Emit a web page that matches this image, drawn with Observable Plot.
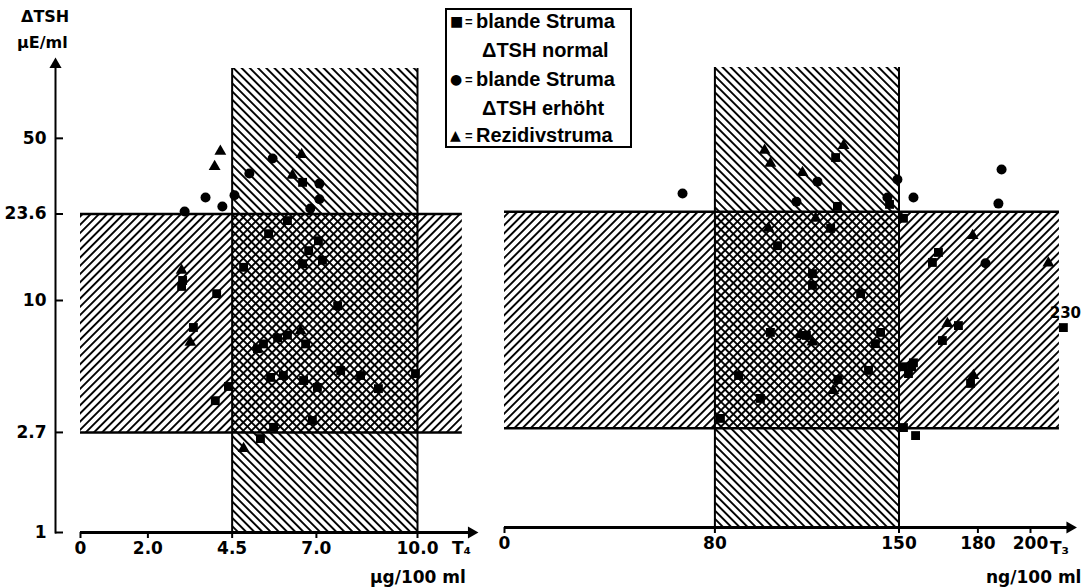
<!DOCTYPE html>
<html>
<head>
<meta charset="utf-8">
<script src="https://cdn.jsdelivr.net/npm/d3@7"></script>
<script src="https://cdn.jsdelivr.net/npm/@observablehq/plot@0.6"></script>
<style>
  body { margin: 0; background: #fff; }
  #wrap { position: relative; width: 1085px; height: 588px; overflow: hidden; background: #fff;
    font-family: "DejaVu Sans", sans-serif; font-weight: bold; color: #000; }
  #left { position: absolute; left: 0; top: 0; }
  #right { position: absolute; left: 490px; top: 0; }
  .lbl { position: absolute; font-size: 17px; white-space: pre; line-height: 1; }
  #legend { position: absolute; left: 445px; top: 8px; width: 183px; height: 136px; border: 2px solid #000; background: #fff;
    font-family: "Liberation Sans", Arial, sans-serif; font-size: 20px; }
  #legend .row { position: absolute; left: 0; white-space: pre; line-height: 1; }
  #legend .sym { position: absolute; left: 3px; font-family: "DejaVu Sans", sans-serif; font-size: 14px; top: 3px; }
  #legend .eq { position: absolute; left: 18px; font-size: 13px; top: 4px; }
  #legend .txt { position: absolute; white-space: pre; }
</style>
</head>
<body>
<div id="wrap">
  <div id="left"></div>
  <div id="right"></div>
  <div class="lbl" style="left:21px;top:9px;font-size:16px;">ΔTSH</div>
  <div class="lbl" style="left:17px;top:35px;font-size:16px;">µE/ml</div>
  <div class="lbl" style="left:452px;top:540px;">T₄</div>
  <div class="lbl" style="left:370px;top:569px;">µg/100 ml</div>
  <div class="lbl" style="left:1050px;top:540px;">T₃</div>
  <div class="lbl" style="left:986px;top:569px;">ng/100 ml</div>
  <div id="legend">
    <div class="row" style="top:1px;"><span class="sym">■</span><span class="eq">=</span><span class="txt" style="left:29px;">blande Struma</span></div>
    <div class="row" style="top:30px;"><span class="txt" style="left:35px;">ΔTSH normal</span></div>
    <div class="row" style="top:59px;"><span class="sym">●</span><span class="eq">=</span><span class="txt" style="left:29px;">blande Struma</span></div>
    <div class="row" style="top:88px;"><span class="txt" style="left:35px;">ΔTSH erhöht</span></div>
    <div class="row" style="top:115px;"><span class="sym">▲</span><span class="eq">=</span><span class="txt" style="left:29px;">Rezidivstruma</span></div>
  </div>
</div>
<script>
// ---- reference ranges ----
const tshNormal = [2.7, 23.6];
const tshTop = 100;
const t4Normal = [4.5, 10];
const t3Normal = [80, 150];

// ---- axis ticks ----
const yTicks = [1, 2.7, 10, 23.6, 50];
const t4Ticks = [0, 2, 4.5, 7, 10];
const t4TickLabels = ["0", "2.0", "4.5", "7.0", "10.0"];
const t3Ticks = [0, 80, 150, 180, 200];
const t3TickLabels = ["0", "80", "150", "180", "200"];
const t4BandEnd = 11.33, t4AxisEnd = 11.6;
const t3BandEnd = 211, t3AxisEnd = 215, t3Clip = 212.5;

// ---- left panel: T4 (µg/100 ml) vs ΔTSH (µE/ml) ----
const t4Square = [[5.58,19.4],[7.06,18.1],[6.77,16.4],[6.59,14.4],[7.18,14.9],[4.84,13.9],[3.03,12.2],[3.0,11.5],
  [4.04,10.7],[7.63,9.5],[3.35,7.65],[5.25,6.2],[5.43,6.5],[5.85,6.9],[6.14,7.1],[6.68,6.5],[4.39,4.26],[4.0,3.7],
  [5.64,4.66],[6.02,4.75],[6.62,4.52],[7.03,4.22],[7.72,4.99],[8.31,4.75],[8.84,4.17],[9.94,4.84],[6.88,3.04],
  [5.73,2.84],[5.34,2.54],[6.59,32.3],[6.14,22.1]];
const t4Circle = [[3.09,24.2],[3.71,27.8],[4.21,25.4],[4.57,28.4],[5.01,35.3],[5.70,40.9],[7.09,31.9],[7.09,27.3],[6.82,24.9]];
const t4Triangle = [[4.15,43.9],[3.98,37.8],[6.56,42.6],[6.29,34.6],[3.0,13.5],[3.26,6.6],[4.84,2.3],[6.53,7.4]];

// ---- right panel: T3 (ng/100 ml) vs ΔTSH ----
const t3Square = [[146.4,25.4],[126.6,24.9],[125.9,40.6],[124,20],[103.8,16.8],[117.1,12.7],[117.1,11.3],[135.4,10.4],
  [101.1,7.05],[143,7.05],[141,6.3],[138.4,4.82],[126.8,4.4],[89,4.58],[97.3,3.64],[82.1,2.98],[151.7,22.1],[165,15.7],
  [162.7,14.2],[172.6,7.55],[166.5,6.5],[177.2,4.23],[151.7,5.0],[154.8,5.0],[153.6,4.67],[155.5,5.2],[151.7,2.72],
  [156.3,2.51],[230,7.4],[114.8,6.84]];
const t3Circle = [[67.7,28.3],[111,26.1],[119,31.9],[149.4,32.6],[155.5,27.2],[145.6,27.2],[189,36],[187.8,25.6],[182.9,14.1]];
const t3Triangle = [[98.9,43.6],[101.1,38.3],[113.3,34.9],[128.9,45.8],[118.3,22.1],[100.4,20],[112.5,6.9],[117.1,6.4],
  [168.4,7.7],[178.3,4.58],[178,18.6],[206.8,14.1],[125,3.94]];

const FONT = '"DejaVu Sans", sans-serif';
const style = {fontFamily: FONT, fontSize: "17px", color: "#000", background: "transparent", overflow: "visible"};
const tickText = {fontSize: 17, fontWeight: "bold"};

function addPatterns(svg, p) {
  const defs = d3.select(svg).insert("defs", ":first-child");
  const mk = (id, angle) => defs.append("pattern").attr("id", id)
    .attr("patternUnits", "userSpaceOnUse").attr("width", 5.8).attr("height", 10)
    .attr("patternTransform", `rotate(${angle})`)
    .append("rect").attr("x", 0).attr("y", 0).attr("width", 1.9).attr("height", 10).attr("fill", "#000");
  mk(p + "F", 45);   // "/" lines
  mk(p + "B", -45);  // "\" lines
}

function dots(arr, symbol, r, xf) {
  return Plot.dot(arr, {x: xf || (d => d[0]), y: d => d[1], symbol, r, fill: "#000", stroke: "none"});
}

// ---------- left plot ----------
const t4Map = new Map(t4Ticks.map((t, i) => [t, t4TickLabels[i]]));
const left = Plot.plot({
  width: 490, height: 588,
  marginLeft: 55, marginRight: 10, marginTop: 64, marginBottom: 56,
  x: {domain: [0, 10], range: [80, 417]},
  y: {type: "log", domain: [1, 100], range: [532, 68]},
  style,
  marks: [
    Plot.rect([tshNormal], {x1: 0, x2: t4BandEnd, y1: d => d[0], y2: d => d[1], fill: "url(#LF)"}),
    Plot.rect([t4Normal], {x1: d => d[0], x2: d => d[1], y1: 1, y2: tshTop, fill: "url(#LB)"}),
    Plot.ruleY(tshNormal, {x1: 0, x2: t4BandEnd, strokeWidth: 2.5}),
    Plot.ruleX(t4Normal, {y1: 1, y2: tshTop, strokeWidth: 2}),
    Plot.ruleY([1], {x1: 0, x2: t4AxisEnd, strokeWidth: 3}),
    Plot.dot([t4AxisEnd], {x: d => d, y: 1, symbol: "triangle", rotate: 90, r: 4.5, fill: "#000"}),
    Plot.frame({anchor: "left", strokeWidth: 2}),
    Plot.dot([0], {x: null, y: null, frameAnchor: "top-left", symbol: "triangle", r: 4.5, fill: "#000"}),
    Plot.ruleY(yTicks, {insetRight: 490 - 55 - 10 - 8, strokeWidth: 2}),
    Plot.axisY(yTicks, {tickSize: 0, tickPadding: 9, tickFormat: d => String(d), ...tickText}),
    Plot.axisX(t4Ticks, {tickSize: 6, tickPadding: 3, strokeWidth: 2, tickFormat: d => t4Map.get(d), ...tickText}),
    dots(t4Square, "square", 5),
    dots(t4Circle, "circle", 5),
    dots(t4Triangle, "triangle", 4.4)
  ]
});
addPatterns(left, "L");
document.getElementById("left").appendChild(left);

// ---------- right plot ----------
const t3Map = new Map(t3Ticks.map((t, i) => [t, t3TickLabels[i]]));
const clipX = d => Math.min(d[0], t3Clip);
const right = Plot.plot({
  width: 595, height: 588,
  marginLeft: 10, marginRight: 10, marginTop: 64, marginBottom: 61,
  x: {domain: [0, 200], range: [14, 540]},
  y: {type: "log", domain: [1, 100], range: [527, 67], axis: null},
  style,
  marks: [
    Plot.rect([tshNormal], {x1: 0, x2: t3BandEnd, y1: d => d[0], y2: d => d[1], fill: "url(#RF)"}),
    Plot.rect([t3Normal], {x1: d => d[0], x2: d => d[1], y1: 1, y2: tshTop, fill: "url(#RB)"}),
    Plot.ruleY(tshNormal, {x1: 0, x2: t3BandEnd, strokeWidth: 2.5}),
    Plot.ruleX(t3Normal, {y1: 1, y2: tshTop, strokeWidth: 2}),
    Plot.ruleY([1], {x1: 0, x2: t3AxisEnd, strokeWidth: 3}),
    Plot.dot([t3AxisEnd], {x: d => d, y: 1, symbol: "triangle", rotate: 90, r: 4.5, fill: "#000"}),
    Plot.axisX(t3Ticks, {tickSize: 6, tickPadding: 3, strokeWidth: 2, tickFormat: d => t3Map.get(d), ...tickText}),
    dots(t3Square, "square", 5, clipX),
    dots(t3Circle, "circle", 5, clipX),
    dots(t3Triangle, "triangle", 4.4, clipX),
    Plot.text(t3Square.filter(d => d[0] > t3Clip), {x: clipX, y: d => d[1], text: d => String(d[0]), dy: -14, dx: 2, fontSize: 15, fontWeight: "bold"})
  ]
});
addPatterns(right, "R");
document.getElementById("right").appendChild(right);
</script>
</body>
</html>
